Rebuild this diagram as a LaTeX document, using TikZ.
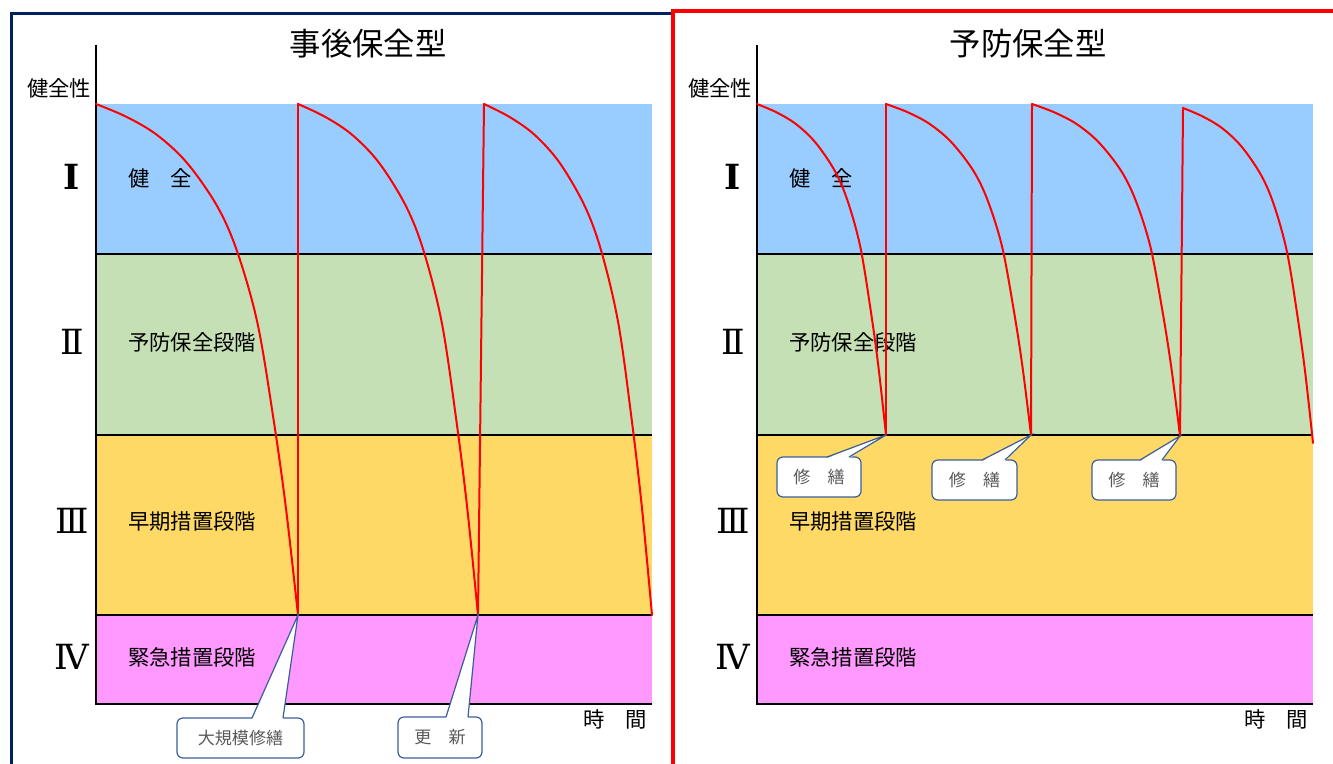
\documentclass[tikz,border=0pt]{standalone}
\usepackage{fontspec}
\setmainfont{Noto Sans CJK JP}
\newfontfamily\romanfont{DejaVu Serif}
\usetikzlibrary{calc}
\definecolor{bandblue}{RGB}{153,204,255}
\definecolor{bandgreen}{RGB}{197,224,180}
\definecolor{bandyellow}{RGB}{255,217,102}
\definecolor{bandpink}{RGB}{255,153,255}
\definecolor{framenavy}{RGB}{0,32,96}
\definecolor{calloutline}{RGB}{59,94,154}
\definecolor{callouttext}{RGB}{89,89,89}
\tikzset{
  axisline/.style={line width=1.5pt, black},
  bandline/.style={line width=1.1pt, black},
  decayline/.style={line width=1.5pt, red, line cap=round, line join=round},
  titletext/.style={font=\fontsize{23.5}{28}\selectfont, inner sep=0pt},
  labeltext/.style={font=\fontsize{16}{19}\selectfont, inner sep=0pt},
  romantext/.style={font=\romanfont\fontsize{26}{30}\selectfont, inner sep=0pt},
  calloutbox/.style={draw=calloutline, fill=white, line width=0.9pt, rounded corners=4.5pt,
     text=callouttext, font=\fontsize{12.8}{15}\selectfont, inner sep=0pt, anchor=center},
  callouttail/.style={draw=calloutline, line width=0.9pt, line join=miter},
}
% decay curve from (#1,#2) down to (#3,#4)
\newcommand\decaycurve[4]{%
  \begin{scope}[shift={(#1,#2)}, xscale={#3-#1}, yscale={#4-#2}]
    \draw[decayline] plot[smooth, tension=0.55] coordinates {(0,0) (0.15,0.025) (0.3,0.06) (0.45,0.115) (0.6,0.2) (0.7,0.29) (0.8,0.43) (0.88,0.62) (0.94,0.79) (1,1)};
  \end{scope}}
% callout: name, center x, center y, width, height, text, tail left x, tail right x, tip coordinate name
\newcommand\calloutnode[9]{%
  \node[calloutbox, minimum width=#4*0.75pt, minimum height=#5*0.75pt] (#1) at (#2,#3) {#6};
  \fill[white] (#7,{#3-#5/2+1.2}) -- (#9) -- (#8,{#3-#5/2+1.2}) -- cycle;
  \draw[callouttail] (#7,{#3-#5/2}) -- (#9) -- (#8,{#3-#5/2});}

\begin{document}
\begin{tikzpicture}[x=0.75pt,y=-0.75pt]
\useasboundingbox (0,0) rectangle (1333,763);
\clip (0,0) rectangle (1333,763);

% panels
\foreach \ox/\nm in {96/L,757/R}{
  \fill[bandblue]   (\ox,104) rectangle ++(556,150);
  \fill[bandgreen]  (\ox,254) rectangle ++(556,181);
  \fill[bandyellow] (\ox,435) rectangle ++(556,180);
  \fill[bandpink]   (\ox,615) rectangle ++(556,89);
  \draw[bandline] (\ox,254) -- ++(556,0);
  \draw[bandline] (\ox,435) -- ++(556,0);
  \draw[bandline] (\ox,615) -- ++(556,0);
  \draw[axisline] (\ox,45) -- (\ox,704) -- ++(556,0);
  \node[labeltext] (\nm ylabel) at ({\ox-37},88) {健全性};
  \node[labeltext] (\nm xlabel) at ({\ox+519},719) {時　間};
  \node[romantext, font=\romanfont\bfseries\fontsize{26}{30}\selectfont] (\nm r1) at ({\ox-24},177) {Ⅰ};
  \node[romantext] (\nm r2) at ({\ox-24},342) {Ⅱ};
  \node[romantext] (\nm r3) at ({\ox-24},521) {Ⅲ};
  \node[romantext] (\nm r4) at ({\ox-24},657) {Ⅳ};
  \node[labeltext, anchor=west] (\nm b1) at ({\ox+32},178) {健　全};
  \node[labeltext, anchor=west] (\nm b2) at ({\ox+32},342) {予防保全段階};
  \node[labeltext, anchor=west] (\nm b3) at ({\ox+32},521) {早期措置段階};
  \node[labeltext, anchor=west] (\nm b4) at ({\ox+32},657) {緊急措置段階};
}
\node[titletext] (Ltitle) at (368,44) {事後保全型};
\node[titletext] (Rtitle) at (1028,44) {予防保全型};

% left decay curves
\decaycurve{96}{104}{298}{615}
\decaycurve{298}{104}{478}{615}
\decaycurve{484}{104}{652}{615}
\coordinate (Lp1) at (298,615);
\coordinate (Lp2) at (478,615);
\draw[decayline] (Lp1) -- (298,104);
\draw[decayline] (Lp2) -- (484,104);

% right decay curves
\decaycurve{757}{104}{886}{435}
\decaycurve{886}{104}{1031}{435}
\decaycurve{1032}{104}{1180}{436}
\decaycurve{1183}{108}{1313}{443}
\coordinate (Rp1) at (886,435);
\coordinate (Rp2) at (1031,435);
\coordinate (Rp3) at (1180,436);
\draw[decayline] (Rp1) -- (886,104);
\draw[decayline] (Rp2) -- (1032,104);
\draw[decayline] (Rp3) -- (1183,108);

% callouts
\calloutnode{cA}{240.5}{738}{127}{40}{大規模修繕}{252}{283}{Lp1}
\calloutnode{cB}{440}{737.5}{84}{41}{更　新}{446}{468}{Lp2}
\calloutnode{cC}{819}{477}{84}{40}{修　繕}{827}{849}{Rp1}
\calloutnode{cD}{974.5}{480}{85}{40}{修　繕}{982}{1005}{Rp2}
\calloutnode{cE}{1134}{480}{84}{40}{修　繕}{1140}{1162}{Rp3}

% frames
\draw[framenavy, line width=2.25pt] (11.5,780) -- (11.5,13.5) -- (672,13.5);
\draw[red, line width=3.4pt] (673,780) -- (673,11) -- (1350,11);
\end{tikzpicture}
\end{document}
